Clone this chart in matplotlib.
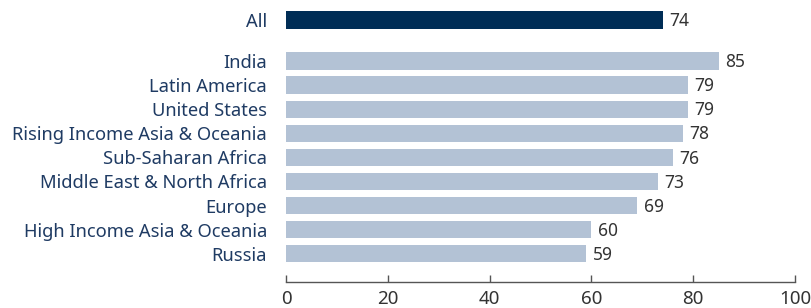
import matplotlib

matplotlib.use("Agg")

import matplotlib.pyplot as plt

# Data.
CATEGORIES = [
    "All",
    "India",
    "Latin America",
    "United States",
    "Rising Income Asia & Oceania",
    "Sub-Saharan Africa",
    "Middle East & North Africa",
    "Europe",
    "High Income Asia & Oceania",
    "Russia",
]
VALUES = [74, 85, 79, 79, 78, 76, 73, 69, 60, 59]
X_TICKS = [0, 20, 40, 60, 80, 100]

NAVY = "#002d56"
LIGHT = "#b3c2d5"
LABEL_COLOR = "#1f3b63"
VALUE_COLOR = "#333333"

plt.rcParams["font.family"] = ["Noto Sans", "DejaVu Sans"]

fig = plt.figure(figsize=(8.12, 3.08), dpi=100)
ax = fig.add_axes([0.3522, 0.0844, 0.6268, 0.9156])

# "All" sits on its own, with a wider gap before the regions.
positions = [0] + [1.7 + i for i in range(len(CATEGORIES) - 1)]
colors = [NAVY] + [LIGHT] * (len(CATEGORIES) - 1)

ax.barh(positions, VALUES, height=0.72, color=colors)
for y, v in zip(positions, VALUES):
    ax.text(v + 1.3, y + 0.05, str(v), va="center", ha="left", fontsize=12.5, color=VALUE_COLOR)

ax.set_yticks(positions)
ax.set_yticklabels(CATEGORIES, fontsize=13.2, color=LABEL_COLOR)
ax.tick_params(axis="y", length=0, pad=13.5)

ax.set_xlim(0, 100)
ax.set_xticks(X_TICKS)
ax.tick_params(axis="x", direction="in", length=5, width=1, color="#555555",
               labelsize=13.5, labelcolor=VALUE_COLOR, pad=6)

ax.set_ylim(10.87, -0.83)

for side in ("top", "right", "left"):
    ax.spines[side].set_visible(False)
ax.spines["bottom"].set_color("#555555")
ax.spines["bottom"].set_linewidth(1)

fig.savefig("out.png", dpi=100)
